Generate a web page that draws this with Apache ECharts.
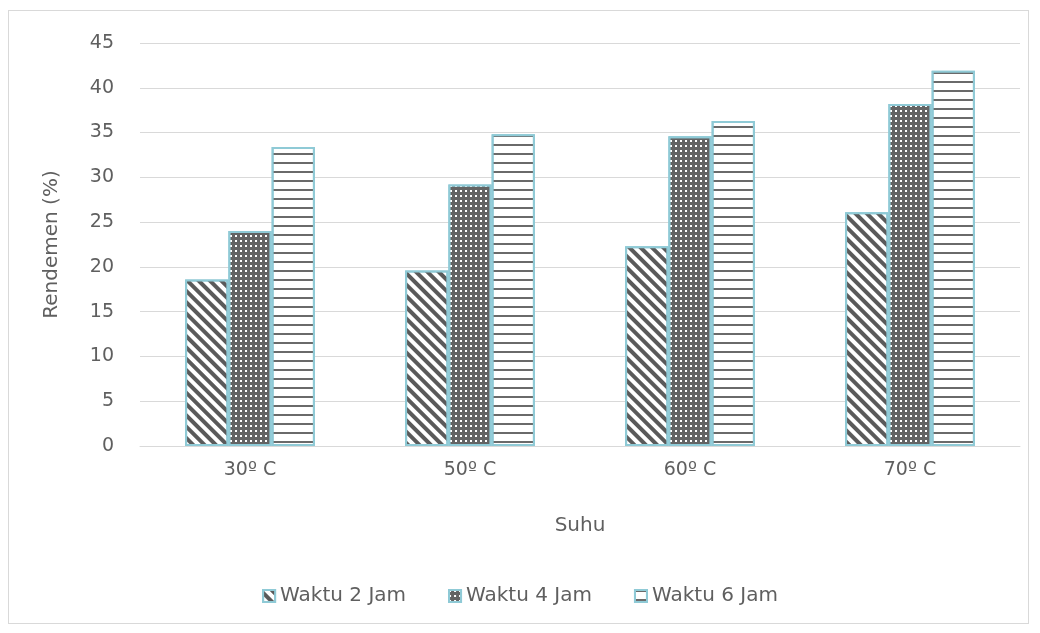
<!doctype html>
<html>
<head>
    <meta charset="utf-8">
    <title>Rendemen</title>
    <script src="https://cdn.jsdelivr.net/npm/echarts@6/dist/echarts.min.js"></script>
    <style>
        html, body { margin: 0; padding: 0; background: #fff; }
        #frame {
            position: absolute; left: 8px; top: 10px; width: 1021px; height: 614px;
            border: 1px solid #d9d9d9; box-sizing: border-box;
        }
        #main { position: absolute; left: 0; top: 0; width: 1040px; height: 633px; }
    </style>
</head>
<body>
    <div id="frame"></div>
    <div id="main"></div>
    <script type="text/javascript">
        // data
        var categories = ['30º C', '50º C', '60º C', '70º C'];
        var seriesNames = ['Waktu 2 Jam', 'Waktu 4 Jam', 'Waktu 6 Jam'];
        var waktu2 = [18.6, 19.6, 22.3, 26.1];
        var waktu4 = [24.0, 29.2, 34.6, 38.2];
        var waktu6 = [33.4, 34.8, 36.3, 41.9];

        var txt = '#5f5f5f';
        var font = '"DejaVu Sans", sans-serif';
        var edge = '#8fcad6';

        // pattern fills
        var decals = [
            { color: '#5a5a5a', symbol: 'rect', dashArrayX: [1, 0], dashArrayY: [4, 4], rotation: Math.PI / 4 },
            { color: '#ffffff', symbol: 'rect', symbolSize: 1, dashArrayX: [2, 3], dashArrayY: [2, 3] },
            { color: '#6a6a6a', symbol: 'rect', dashArrayX: [1, 0], dashArrayY: [2, 7] }
        ];
        var fills = ['#ffffff', '#636363', '#ffffff'];

        function bar(i, data) {
            return {
                name: seriesNames[i],
                type: 'bar',
                data: data,
                barGap: 0,
                barCategoryGap: '41%',
                itemStyle: {
                    color: fills[i],
                    borderColor: edge,
                    borderWidth: 2,
                    decal: decals[i]
                }
            };
        }

        var myChart = echarts.init(document.getElementById('main'));
        var option = {
            animation: false,
            textStyle: { fontFamily: font },
            legend: {
                bottom: 22,
                itemWidth: 12,
                itemHeight: 12,
                itemGap: 42,
                icon: 'rect',
                textStyle: { color: txt, fontSize: 20, fontFamily: font },
                data: seriesNames
            },
            grid: { left: 140, right: 20, top: 43, bottom: 187, containLabel: false },
            xAxis: {
                type: 'category',
                data: categories,
                name: 'Suhu',
                nameLocation: 'middle',
                nameGap: 70,
                nameTextStyle: { color: txt, fontSize: 20, fontFamily: font },
                axisLine: { lineStyle: { color: '#d9d9d9', width: 1 } },
                axisTick: { show: false },
                axisLabel: { color: txt, fontSize: 19, margin: 15, fontFamily: font }
            },
            yAxis: {
                type: 'value',
                min: 0,
                max: 45,
                interval: 5,
                name: 'Rendemen (%)',
                nameLocation: 'middle',
                nameGap: 78,
                nameTextStyle: { color: txt, fontSize: 20, fontFamily: font },
                axisLine: { show: false },
                axisTick: { show: false },
                axisLabel: { color: txt, fontSize: 19, margin: 26, fontFamily: font },
                splitLine: { lineStyle: { color: '#d9d9d9', width: 1 } }
            },
            series: [bar(0, waktu2), bar(1, waktu4), bar(2, waktu6)]
        };
        myChart.setOption(option);
    </script>
</body>
</html>
